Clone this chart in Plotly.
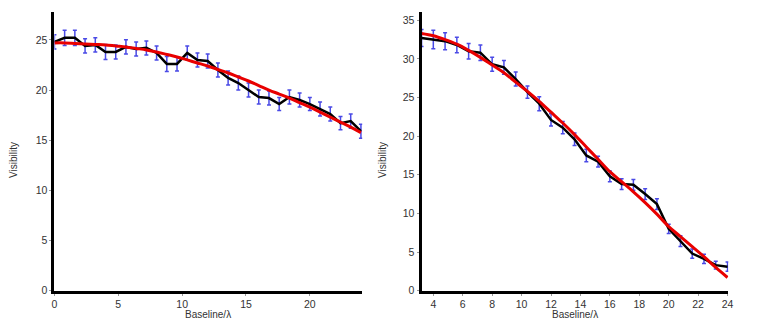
import plotly.graph_objects as go

# ---- Left panel data ----
x_left = [0.0, 0.8, 1.6, 2.4, 3.2, 4.0, 4.8, 5.6, 6.4, 7.2, 8.0, 8.8, 9.6, 10.4, 11.2, 12.0,
          12.8, 13.6, 14.4, 15.2, 16.0, 16.8, 17.6, 18.4, 19.2, 20.0, 20.8, 21.6, 22.4, 23.2, 24.0]
vis_left = [24.8, 25.2, 25.2, 24.4, 24.5, 23.8, 23.8, 24.3, 24.1, 24.2, 23.7, 22.6, 22.6, 23.7, 23.0, 22.9,
            22.0, 21.2, 20.7, 20.0, 19.3, 19.2, 18.6, 19.3, 19.0, 18.6, 18.1, 17.6, 16.7, 16.9, 15.9]
err_left = [0.7, 0.75, 0.75, 0.7, 0.7, 0.75, 0.7, 0.7, 0.7, 0.7, 0.7, 0.75, 0.7, 0.7, 0.7, 0.7,
            0.7, 0.7, 0.7, 0.7, 0.7, 0.7, 0.65, 0.7, 0.7, 0.65, 0.7, 0.7, 0.65, 0.7, 0.7]
fit_left = [24.7, 24.7, 24.65, 24.6, 24.55, 24.5, 24.4, 24.3, 24.15, 24.0, 23.8, 23.55, 23.3, 23.0, 22.7, 22.4,
            22.05, 21.7, 21.3, 20.9, 20.45, 20.0, 19.6, 19.2, 18.75, 18.3, 17.8, 17.3, 16.8, 16.3, 15.75]

# ---- Right panel data ----
x_right = [3.2, 4.0, 4.8, 5.6, 6.4, 7.2, 8.0, 8.8, 9.6, 10.4, 11.2, 12.0, 12.8, 13.6,
           14.4, 15.2, 16.0, 16.8, 17.6, 18.4, 19.2, 20.0, 20.8, 21.6, 22.4, 23.2, 24.0]
vis_right = [32.7, 32.5, 32.3, 31.8, 31.0, 30.8, 29.3, 28.9, 27.4, 25.7, 24.2, 22.1, 21.1, 19.6,
             17.5, 16.7, 14.8, 13.8, 13.7, 12.5, 11.2, 8.0, 6.4, 4.8, 4.1, 3.3, 3.1]
err_right = [1.1, 1.2, 1.1, 1.0, 1.0, 1.0, 0.9, 0.9, 0.9, 0.8, 0.9, 0.8, 0.8, 0.8,
             0.8, 0.7, 0.7, 0.7, 0.7, 0.7, 0.7, 0.6, 0.7, 0.6, 0.6, 0.5, 0.6]
fit_right = [33.3, 33.0, 32.5, 31.9, 31.1, 30.2, 29.2, 28.2, 27.0, 25.8, 24.5, 23.1, 21.7, 20.2,
             18.6, 17.0, 15.4, 14.1, 12.8, 11.4, 9.9, 8.3, 7.0, 5.7, 4.4, 3.0, 1.7]

left_yticks = [0, 5, 10, 15, 20, 25]
left_xticks = [0, 5, 10, 15, 20]
right_yticks = [0, 5, 10, 15, 20, 25, 30, 35]
right_xticks = [4, 6, 8, 10, 12, 14, 16, 18, 20, 22, 24]

ERR_COLOR = "#4a4ae6"
FONT = "Liberation Sans, Arial, sans-serif"
W, H = 762, 330

fig = go.Figure()

for xs, ys, es, fs, xa, ya in [
    (x_left, vis_left, err_left, fit_left, "x", "y"),
    (x_right, vis_right, err_right, fit_right, "x2", "y2"),
]:
    fig.add_trace(go.Scatter(
        x=xs, y=ys, mode="markers", marker=dict(size=1, color="rgba(0,0,0,0)"),
        error_y=dict(type="data", array=es, visible=True, color=ERR_COLOR, thickness=1.5, width=2),
        xaxis=xa, yaxis=ya, showlegend=False, cliponaxis=False, hoverinfo="skip"))
    fig.add_trace(go.Scatter(
        x=xs, y=ys, mode="lines", line=dict(color="black", width=2.5),
        xaxis=xa, yaxis=ya, showlegend=False, cliponaxis=False))
    fig.add_trace(go.Scatter(
        x=xs, y=fs, mode="lines", line=dict(color="#e80000", width=3, shape="spline"),
        xaxis=xa, yaxis=ya, showlegend=False, cliponaxis=False))

ydom = [0.103, 0.9636]
axis_common = dict(showline=True, linecolor="black", linewidth=3, showgrid=False, zeroline=False,
                   ticks="outside", ticklen=2, tickcolor="#999999", tickwidth=1,
                   tickfont=dict(family=FONT, size=10.5, color="#333333"))


def ann(text, px, py, angle=0):
    return dict(text=text, x=px / W, y=1 - py / H, xref="paper", yref="paper",
                xanchor="center", yanchor="middle", textangle=angle, showarrow=False,
                font=dict(family=FONT, size=10, color="#333333"))


fig.update_layout(
    width=W, height=H,
    margin=dict(l=0, r=0, t=0, b=0),
    paper_bgcolor="white", plot_bgcolor="white",
    xaxis=dict(domain=[0.0682, 0.4764], range=[0, 24.1], tickvals=left_xticks, anchor="y", **axis_common),
    yaxis=dict(domain=ydom, range=[0, 27.8], tickvals=left_yticks, anchor="x", **axis_common),
    xaxis2=dict(domain=[0.5551, 0.9619], range=[3.2, 24.05], tickvals=right_xticks, anchor="y2", **axis_common),
    yaxis2=dict(domain=ydom, range=[0, 36.1], tickvals=right_yticks, anchor="x2", **axis_common),
    annotations=[
        ann("Baseline/λ", 207, 320.5),
        ann("Baseline/λ", 578, 320.5),
        ann("Visibility", 10, 163, -90),
        ann("Visibility", 383, 163, -90),
    ],
)

fig.write_html("out.html")
